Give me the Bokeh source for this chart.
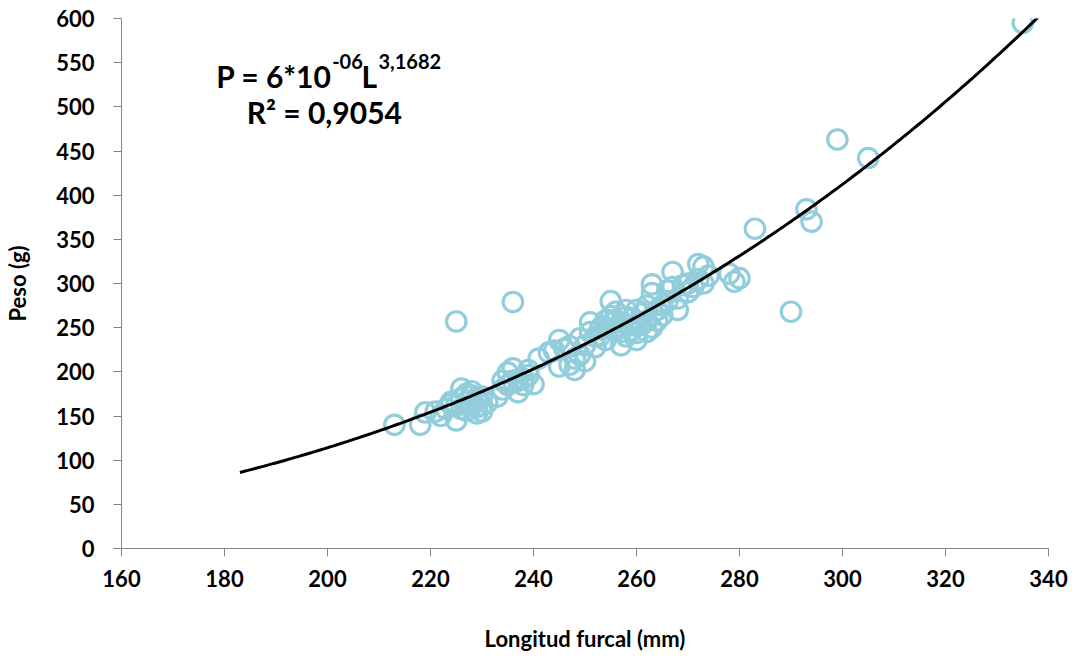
import numpy as np
from bokeh.plotting import figure
from bokeh.models import FixedTicker, Label, ColumnDataSource
from bokeh.embed import file_html
from bokeh.resources import INLINE

# Data: fork length (mm) vs weight (g)
length = [213, 218, 219, 221, 222, 223, 224, 225, 225, 226, 226, 227, 227, 228, 228, 229, 229, 229,
          230, 230, 231, 224, 226, 228, 230, 227,
          225, 236,
          233, 234, 234, 235, 235, 236, 236, 237, 237, 238, 238, 239, 240, 239,
          241, 243, 244, 245, 245, 246, 247, 247, 248, 248, 249, 249, 250, 250,
          251, 251, 252, 252, 253, 253, 254, 254, 255, 255, 255, 256, 256, 257, 257, 257,
          258, 258, 259, 259, 260, 260, 260, 261, 261, 262, 262, 262, 263, 263, 263, 264,
          264, 265, 265, 266, 258, 256, 260, 254,
          266, 267, 267, 268, 268, 269, 270, 270, 271, 272, 273, 273, 274, 272, 278, 279, 280,
          283, 290, 293, 294, 299, 305, 335]
weight = [140, 140, 154, 155, 150, 158, 163, 145, 162, 170, 181, 156, 166, 173, 178, 168, 160, 153,
          155, 172, 165, 166, 158, 163, 162, 175,
          257, 279,
          172, 180, 190, 199, 185, 204, 190, 190, 177, 192, 185, 202, 186, 196,
          215, 222, 224, 236, 206, 226, 229, 208, 202, 215, 219, 238, 212, 230,
          256, 245, 228, 240, 241, 250, 249, 236, 280, 263, 255, 247, 268, 230, 256, 245,
          270, 262, 247, 260, 236, 252, 270, 253, 266, 275, 245, 258, 299, 289, 250, 258,
          270, 275, 264, 280, 240, 258, 244, 258,
          292, 313, 296, 283, 270, 298, 290, 300, 296, 322, 319, 300, 309, 305, 311, 302, 306,
          362, 268, 384, 370, 463, 442, 595]

# Power trend line P = a * L^b (as printed on the chart)
trend_a = 5.85e-06
trend_b = 3.1682
trend_start, trend_end = 183, 338.3

x_ticks = [160, 180, 200, 220, 240, 260, 280, 300, 320, 340]
y_ticks = [0, 50, 100, 150, 200, 250, 300, 350, 400, 450, 500, 550, 600]

FONT = "Lato"
AXIS_GRAY = "#868686"
MARKER = "#92CDDC"

p = figure(width=1075, height=661, output_backend="svg", toolbar_location=None,
           x_range=(160, 340), y_range=(0, 600),
           min_border_left=121, min_border_right=27, min_border_top=18, min_border_bottom=113)
p.outline_line_color = None
p.grid.visible = False
p.background_fill_color = "white"
p.border_fill_color = "white"

src = ColumnDataSource(dict(x=length, y=weight))
p.scatter("x", "y", source=src, size=19.5, marker="circle", fill_color=None,
          line_color=MARKER, line_width=3.2)

tx = np.linspace(trend_start, trend_end, 300)
ty = trend_a * tx ** trend_b
p.line(tx, ty, line_color="black", line_width=3)

for ax in (p.xaxis[0], p.yaxis[0]):
    ax.axis_line_color = AXIS_GRAY
    ax.major_tick_line_color = AXIS_GRAY
    ax.minor_tick_line_color = None
    ax.major_tick_in = 0
    ax.major_tick_out = 8
    ax.major_label_text_font = FONT
    ax.major_label_text_font_style = "bold"
    ax.major_label_text_font_size = "22px"
    ax.major_label_text_color = "black"
    ax.axis_label_text_font = FONT
    ax.axis_label_text_font_style = "bold"
    ax.axis_label_text_font_size = "22px"
    ax.axis_label_text_color = "black"

p.xaxis.ticker = FixedTicker(ticks=x_ticks)
p.yaxis.ticker = FixedTicker(ticks=y_ticks)
p.xaxis.axis_label = "Longitud furcal (mm)"
p.yaxis.axis_label = "Peso (g)"
p.xaxis.major_label_standoff = 13
p.xaxis.axis_label_standoff = 35
p.yaxis.major_label_standoff = 19
p.yaxis.axis_label_standoff = 22

def lab(x, y, text, size):
    p.add_layout(Label(x=x, y=y, text=text, text_font=FONT, text_font_style="bold",
                       text_font_size=size, text_color="black", text_baseline="alphabetic",
                       text_align="left"))

lab(178.4, 535.0, "P = 6*10", "30px")
lab(200.9, 551.0, "-06", "20px")
lab(206.6, 535.0, "L", "30px")
lab(209.9, 551.0, "3,1682", "20px")
lab(184.3, 494.0, "R² = 0,9054", "30px")

open("out.html", "w").write(file_html(p, INLINE))
